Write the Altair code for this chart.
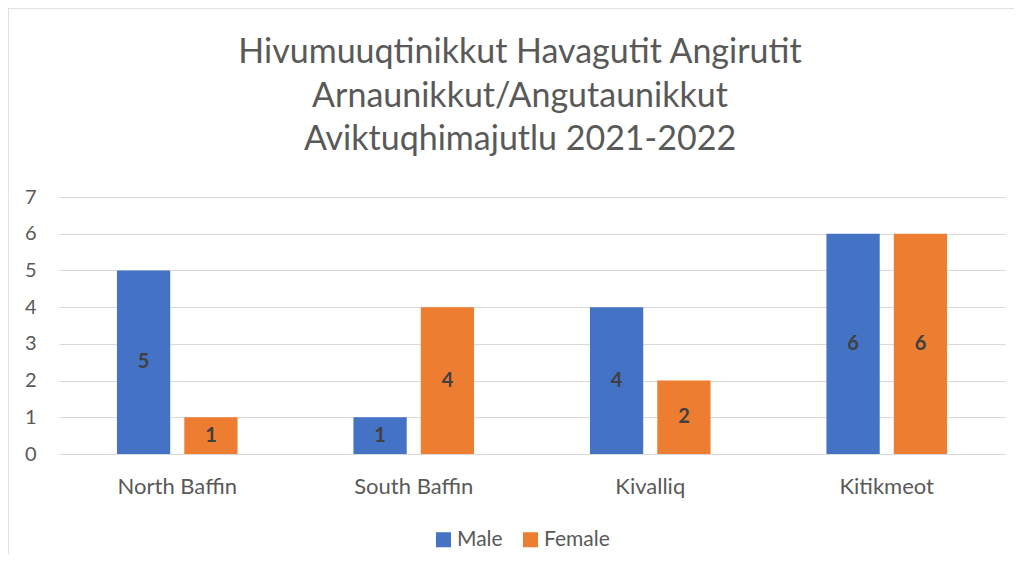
import altair as alt
import pandas as pd

regions = ["North Baffin", "South Baffin", "Kivalliq", "Kitikmeot"]
genders = ["Male", "Female"]
male = [5, 1, 4, 6]
female = [1, 4, 2, 6]
title_lines = [
    "Hivumuuqtinikkut Havagutit Angirutit",
    "Arnaunikkut/Angutaunikkut",
    "Aviktuqhimajutlu 2021-2022",
]
y_ticks = [0, 1, 2, 3, 4, 5, 6, 7]

rows = []
for r, m, f in zip(regions, male, female):
    rows.append({"region": r, "gender": "Male", "count": m})
    rows.append({"region": r, "gender": "Female", "count": f})
df = pd.DataFrame(rows)

FONT = "Lato"
GRAY = "#595959"

x_axis = alt.Axis(labelAngle=0, labelFontSize=22, labelColor=GRAY, labelFont=FONT,
                  labelPadding=22, ticks=False, domain=False, grid=False)
y_axis = alt.Axis(values=y_ticks, labelFontSize=20, labelColor=GRAY, labelFont=FONT,
                  labelPadding=23, ticks=False, domain=False, grid=True,
                  gridColor="#d9d9d9", gridWidth=1, labelOverlap=False)
x_scale = alt.Scale(paddingInner=0.49, paddingOuter=0.245)
xo_scale = alt.Scale(paddingInner=0.209, paddingOuter=0)
y_scale = alt.Scale(domain=[0, 7], nice=False)

color = alt.Color(
    "gender:N",
    sort=genders,
    scale=alt.Scale(domain=genders, range=["#4472C4", "#ED7D31"]),
    legend=alt.Legend(title=None, orient="none", direction="horizontal",
                      legendX=374, legendY=332, symbolType="square", symbolSize=225,
                      symbolStrokeWidth=0, labelFontSize=21, labelColor=GRAY,
                      labelFont=FONT, columnPadding=17, labelOffset=3),
)

bars = alt.Chart(df).mark_bar().encode(
    x=alt.X("region:N", sort=regions, title=None, scale=x_scale, axis=x_axis),
    xOffset=alt.XOffset("gender:N", sort=genders, scale=xo_scale),
    y=alt.Y("count:Q", title=None, scale=y_scale, axis=y_axis),
    color=color,
)

labels = alt.Chart(df).transform_calculate(mid="datum.count / 2").mark_text(
    fontSize=20, fontWeight="bold", color="#404040", font=FONT, baseline="middle"
).encode(
    x=alt.X("region:N", sort=regions, title=None, scale=x_scale, axis=x_axis),
    xOffset=alt.XOffset("gender:N", sort=genders, scale=xo_scale),
    y=alt.Y("mid:Q", title=None, scale=y_scale, axis=y_axis),
    text=alt.Text("count:Q"),
)

title_y = [-144, -100, -57]
title_marks = [
    alt.Chart(alt.Data(values=[{"t": line}])).mark_text(
        fontSize=34, font=FONT, color=GRAY, align="center", baseline="middle"
    ).encode(x=alt.value(461), y=alt.value(ty), text="t:N")
    for line, ty in zip(title_lines, title_y)
]

border_left = alt.Chart(alt.Data(values=[{}])).mark_rule(color="#d9d9d9", strokeWidth=1.5).encode(
    x=alt.value(-51), y=alt.value(-189), y2=alt.value(420)
)
border_top = alt.Chart(alt.Data(values=[{}])).mark_rule(color="#d9d9d9", strokeWidth=1.5).encode(
    x=alt.value(-51), x2=alt.value(1000), y=alt.value(-189)
)

chart = alt.layer(bars, labels, *title_marks, border_left, border_top).properties(
    width=946,
    height=257,
    autosize=alt.AutoSizeParams(type="none"),
    padding={"left": 51, "top": 189, "right": 9, "bottom": 100},
).configure_view(stroke=None)

chart.save("out.html", embed_options={"renderer": "svg", "actions": False})
